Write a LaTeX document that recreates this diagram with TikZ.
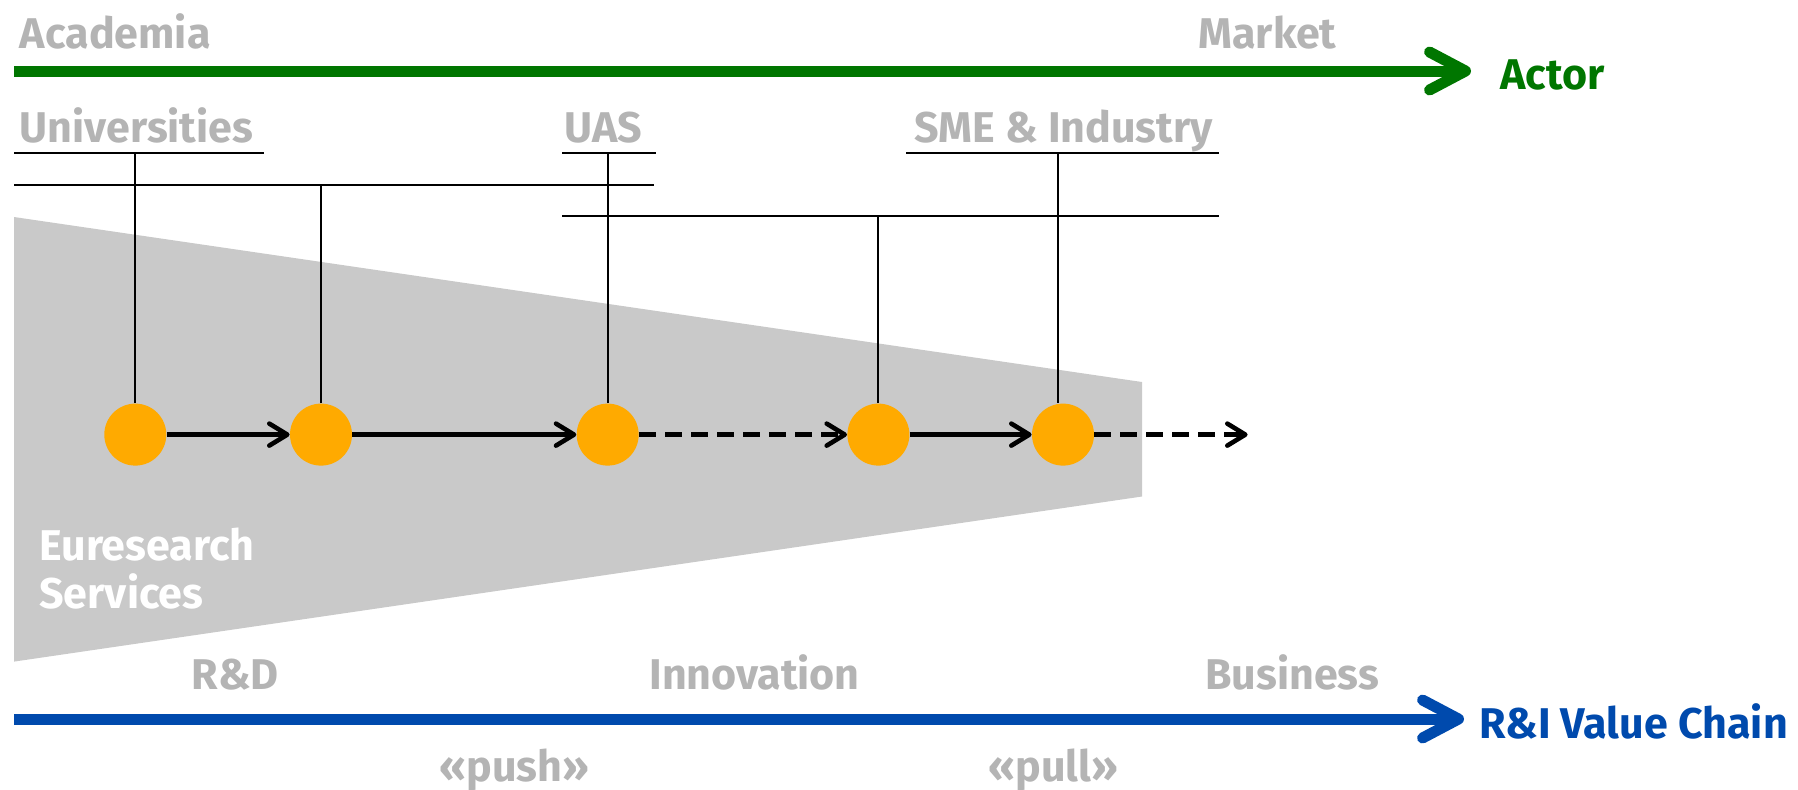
\documentclass[tikz,border=0pt]{standalone}
\usepackage{fontspec}
\setmainfont{Fira Sans}
\usetikzlibrary{arrows.meta}
\definecolor{txtgray}{RGB}{180,180,180}
\definecolor{actorgreen}{RGB}{0,118,0}
\definecolor{chainblue}{RGB}{0,74,173}
\definecolor{dotorange}{RGB}{255,170,0}
\definecolor{funnelgray}{RGB}{201,201,201}

\begin{document}
\begin{tikzpicture}[line join=round,x=0.5pt,y=-0.5pt,
  lbl/.style={inner sep=0pt,anchor=base west,text=txtgray,font=\fontsize{21.5}{25}\selectfont\bfseries},
  axis/.style={line width=5.5pt,-{Straight Barb[round,length=18pt,width=19pt]}},
  dot/.style={circle,fill=dotorange,minimum size=31pt,inner sep=0pt},
  flow/.style={line width=2.3pt,-{Straight Barb[round,length=9pt,width=11pt]}},
  flowdash/.style={flow,dash pattern=on 8.5pt off 4.5pt},
  rule/.style={line width=1pt}]
\useasboundingbox (0,0) rectangle (1798,789);
\fill [funnelgray] (14,217)--(1142,382)--(1142,496.5)--(14,661.6)--cycle;
% axes
\coordinate (act0) at (14,71);
\coordinate (act1) at (1471,71);
\draw [axis,actorgreen] (act0)--(act1);
\coordinate (chain0) at (14,719);
\coordinate (chain1) at (1464,719);
\draw [axis,chainblue] (chain0)--(chain1);
% actor rules
\draw [rule] (14,152.5)--(264,152.5);
\draw [rule] (562,152.5)--(656,152.5);
\draw [rule] (906,152.5)--(1219,152.5);
\draw [rule] (14,184.6)--(654,184.6);
\draw [rule] (562,215.6)--(1219,215.6);
\coordinate (uni) at (0,152.5);
\coordinate (acad) at (0,184.6);
\coordinate (uas) at (0,152.5);
\coordinate (mkt) at (0,215.6);
\coordinate (sme) at (0,152.5);
% stages
\node [dot] (c1) at (135.3,434.6) {};
\node [dot] (c2) at (321,434.6) {};
\node [dot] (c3) at (607.7,434.6) {};
\node [dot] (c4) at (878.4,434.6) {};
\node [dot] (c5) at (1063,434.6) {};
\coordinate (c6) at (1247.6,434.6);
\draw [rule] (c1.north)--(c1 |- uni);
\draw [rule] (c2.north)--(c2 |- acad);
\draw [rule] (c3.north)--(c3 |- uas);
\draw [rule] (c4.north)--(c4 |- mkt);
\draw [rule] ([xshift=-2.5pt]c5.north)--([xshift=-2.5pt]c5 |- sme);
\draw [flow] (c1)--(c2);
\draw [flow] (c2)--(c3);
\draw [flowdash] (c3)--(c4);
\draw [flow] (c4)--(c5);
\draw [flowdash] (c5)--(c6);
% labels
\node [lbl] (academia) at (19.5,48) {Academia};
\node [lbl] (market) at (1198,48) {Market};
\node [lbl,text=actorgreen] (actor) at (1500,89.4) {Actor};
\node [lbl] (universities) at (19.5,142.5) {Universities};
\node [lbl] (uaslbl) at (564,142.5) {UAS};
\node [lbl] (industry) at (914,142.5) {SME \& Industry};
\node [lbl,text=white] (eure) at (39,560) {Euresearch};
\node [lbl,text=white] (serv) at (39,608) {Services};
\node [lbl] (rd) at (191.5,689) {R\&D};
\node [lbl] (innov) at (649,689) {Innovation};
\node [lbl] (business) at (1205,689) {Business};
\node [lbl,text=chainblue] (chain) at (1479,738) {R\&I Value Chain};
\node [lbl] (push) at (439,781) {«push»};
\node [lbl] (pull) at (988,781) {«pull»};
\end{tikzpicture}
\end{document}
